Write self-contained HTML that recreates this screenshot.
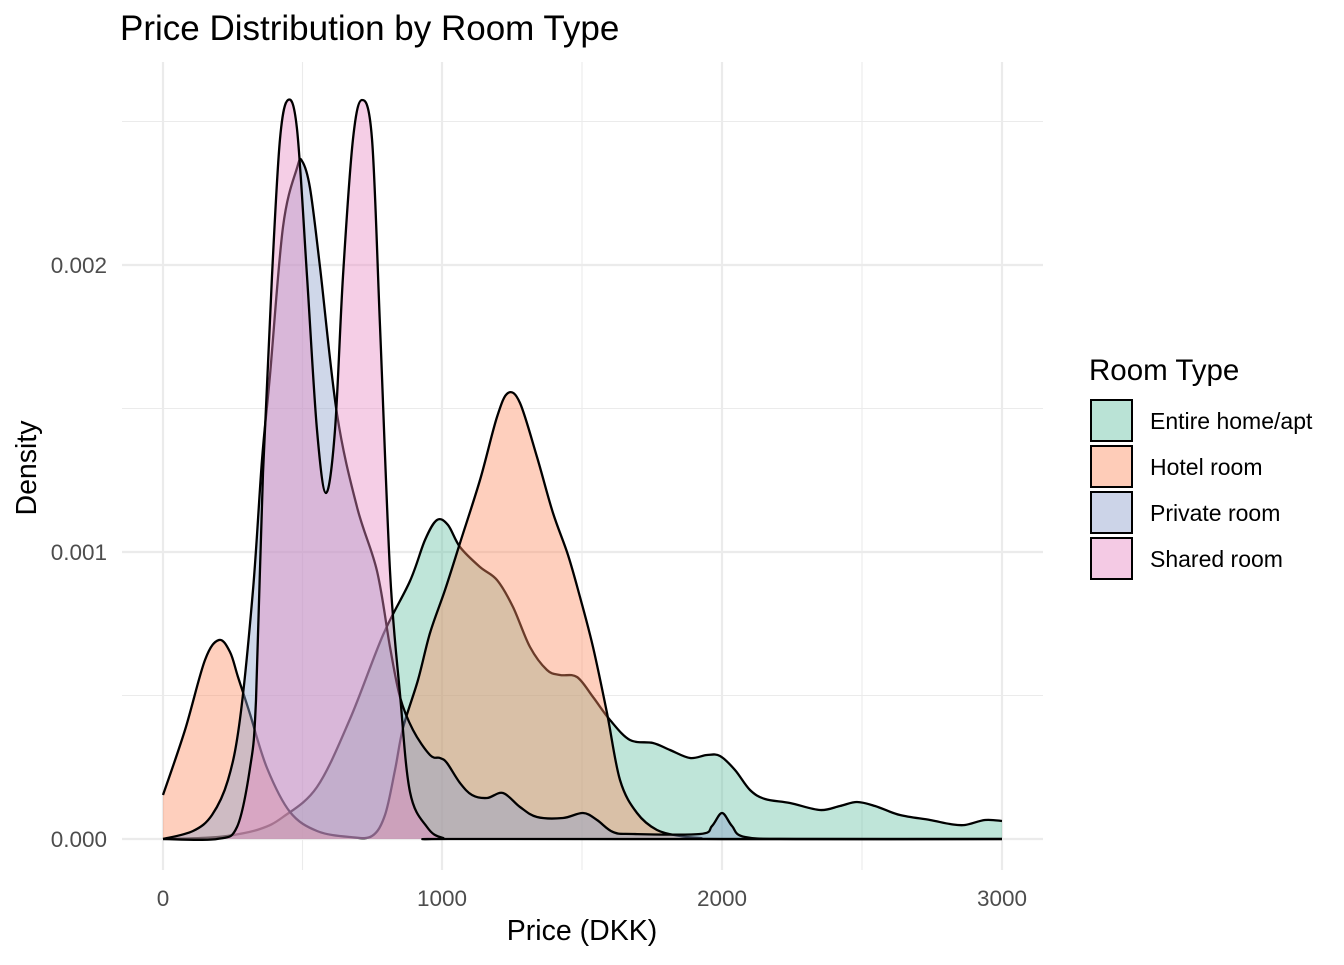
<!DOCTYPE html>
<html><head><meta charset="utf-8"><style>
body{margin:0;background:#fff;}
svg text{font-family:"Liberation Sans",Arial,sans-serif;}
</style></head><body>
<svg id="s" width="1344" height="960" viewBox="0 0 1344 960" xmlns="http://www.w3.org/2000/svg">
<rect width="1344" height="960" fill="#fff"/>
<g stroke="#EBEBEB" stroke-width="1.1">
<line x1="122" x2="1043" y1="695.5" y2="695.5"/><line x1="122" x2="1043" y1="408.5" y2="408.5"/><line x1="122" x2="1043" y1="121.5" y2="121.5"/>
<line y1="62" y2="870" x1="302.5" x2="302.5"/><line y1="62" y2="870" x1="582" x2="582"/><line y1="62" y2="870" x1="862" x2="862"/>
</g>
<g stroke="#EBEBEB" stroke-width="2.2">
<line x1="122" x2="1043" y1="839" y2="839"/><line x1="122" x2="1043" y1="552" y2="552"/><line x1="122" x2="1043" y1="265" y2="265"/>
<line y1="62" y2="870" x1="163" x2="163"/><line y1="62" y2="870" x1="442" x2="442"/><line y1="62" y2="870" x1="722" x2="722"/><line y1="62" y2="870" x1="1002" x2="1002"/>
</g>
<g id="curves"></g>
<g fill="#4D4D4D" font-size="22.5">
<text x="107" y="847" text-anchor="end">0.000</text>
<text x="107" y="560" text-anchor="end">0.001</text>
<text x="107" y="273" text-anchor="end">0.002</text>
<text x="163" y="906" text-anchor="middle">0</text>
<text x="442" y="906" text-anchor="middle">1000</text>
<text x="722" y="906" text-anchor="middle">2000</text>
<text x="1002" y="906" text-anchor="middle">3000</text>
</g>
<text x="582" y="940" font-size="28.5" text-anchor="middle">Price (DKK)</text>
<text x="0" y="0" font-size="28.5" text-anchor="middle" transform="translate(36,468) rotate(-90)">Density</text>
<text x="120" y="40" font-size="35">Price Distribution by Room Type</text>
<text x="1089" y="380" font-size="29.5">Room Type</text>
<g stroke="#000" stroke-width="2">
<rect x="1091" y="400" width="41" height="41" fill="#66C2A5" fill-opacity="0.45"/>
<rect x="1091" y="446" width="41" height="41" fill="#FC8D62" fill-opacity="0.45"/>
<rect x="1091" y="492" width="41" height="41" fill="#8DA0CB" fill-opacity="0.45"/>
<rect x="1091" y="538" width="41" height="41" fill="#E78AC3" fill-opacity="0.45"/>
</g>
<g font-size="23">
<text x="1150" y="429">Entire home/apt</text>
<text x="1150" y="475">Hotel room</text>
<text x="1150" y="521">Private room</text>
<text x="1150" y="567">Shared room</text>
</g>
</svg>
<script>
var B=839;
var series=[
["#66C2A5",[[163,839],[200,838],[227,836],[260,829],[283,817],[317,787],[350,719],[383,635],[410,581],[425,540],[437,520],[448,525],[460,547],[480,567],[497,580],[513,607],[530,647],[547,670],[560,675],[577,677],[593,697],[610,720],[630,740],[653,743],[670,750],[690,758],[707,755],[720,756],[735,770],[750,790],[765,799],[790,803],[820,810],[840,806],[857,802],[875,806],[900,815],[930,820],[950,824],[965,825],[985,820],[1002,821]]],
["#FC8D62",[[163,795],[185,730],[205,660],[219,640],[230,652],[238,677],[250,714],[267,768],[290,812],[317,831],[350,837],[372,836],[385,815],[395,770],[403,728],[418,680],[430,633],[445,590],[460,543],[480,480],[497,417],[508,393],[520,403],[537,457],[553,513],[568,555],[580,597],[593,647],[607,713],[620,780],[637,813],[657,830],[680,836],[700,838],[730,839],[1002,839]]],
["#8DA0CB",[[163,839],[193,831],[212,815],[228,780],[240,719],[253,590],[262,460],[270,375],[283,227],[297,168],[302,161],[310,188],[320,267],[337,414],[357,507],[377,571],[390,647],[400,697],[413,730],[430,755],[440,758],[447,763],[460,783],[472,795],[487,798],[503,793],[520,807],[537,817],[563,818],[583,813],[597,820],[613,832],[633,834],[700,834],[712,826],[722,813],[732,826],[745,837],[800,839],[1002,839]]],
["#E78AC3",[[163,839],[217,839],[237,827],[250,768],[256,700],[263,473],[272,276],[280,139],[288,100],[297,129],[307,276],[317,430],[326,493],[335,430],[343,276],[353,139],[362,100],[372,139],[380,326],[390,571],[400,694],[410,792],[427,827],[443,838],[470,839],[1002,839]]]
];
function cr(p){var d="M"+p[0][0]+","+p[0][1];for(var i=0;i<p.length-1;i++){var p0=p[i-1]||p[i],p1=p[i],p2=p[i+1],p3=p[i+2]||p2;
var c1x=p1[0]+(p2[0]-p0[0])/6,c1y=p1[1]+(p2[1]-p0[1])/6,c2x=p2[0]-(p3[0]-p1[0])/6,c2y=p2[1]-(p3[1]-p1[1])/6;
d+=" C"+c1x.toFixed(1)+","+c1y.toFixed(1)+" "+c2x.toFixed(1)+","+c2y.toFixed(1)+" "+p2[0]+","+p2[1];}return d;}
var g=document.getElementById("curves"),h="";
series.forEach(function(s){var d=cr(s[1]);var last=s[1][s[1].length-1];
h+='<path d="'+d+' L'+last[0]+','+B+' L163,'+B+' Z" fill="'+s[0]+'" fill-opacity="0.42" stroke="none"/>';
h+='<path d="'+d+'" fill="none" stroke="#000" stroke-width="2.3" stroke-linejoin="round"/>';});
g.innerHTML=h;
</script>
</body></html>
